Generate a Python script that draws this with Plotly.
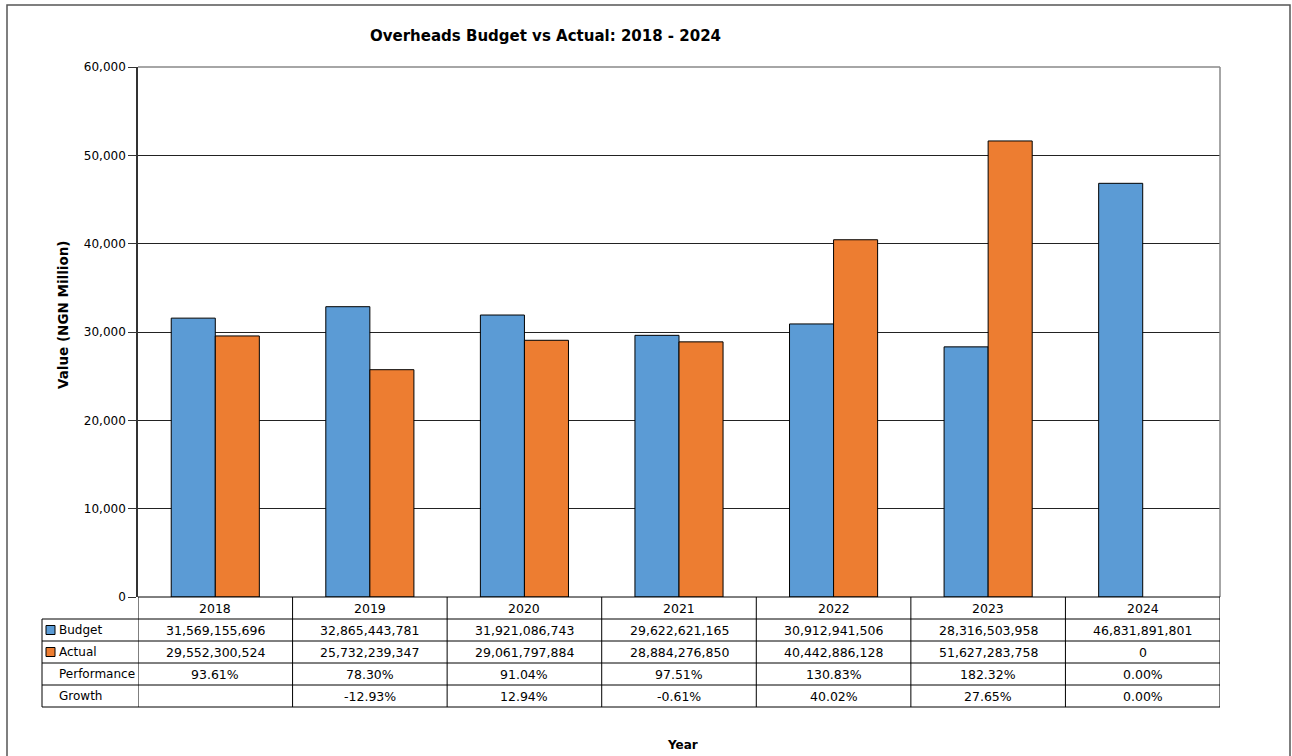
import plotly.graph_objects as go

# Overheads budget vs actual, NGN
years = ["2018", "2019", "2020", "2021", "2022", "2023", "2024"]
budget = [31569155696, 32865443781, 31921086743, 29622621165,
          30912941506, 28316503958, 46831891801]
actual = [29552300524, 25732239347, 29061797884, 28884276850,
          40442886128, 51627283758, 0]
performance = ["93.61%", "78.30%", "91.04%", "97.51%", "130.83%", "182.32%", "0.00%"]
growth = ["", "-12.93%", "12.94%", "-0.61%", "40.02%", "27.65%", "0.00%"]

BLUE = "#5B9BD5"
ORANGE = "#ED7D31"
FONT = "DejaVu Sans"

W, H = 1292, 756


def px(x):
    return x / W


def py(y):
    return 1 - y / H


PLOT_L, PLOT_R, PLOT_T, PLOT_B = 138, 1220, 67, 597
TABLE_L = 42
ROWS = [597, 619, 641, 663, 685, 707]

budget_m = [v / 1e6 for v in budget]
actual_m = [v / 1e6 for v in actual]


def outline(vals):
    # no outline on empty bars
    return [1 if v else 0 for v in vals]


fig = go.Figure()
fig.add_bar(x=years, y=budget_m, name="Budget", marker_color=BLUE,
            marker_line=dict(color="#000000", width=outline(budget_m)))
fig.add_bar(x=years, y=actual_m, name="Actual", marker_color=ORANGE,
            marker_line=dict(color="#000000", width=outline(actual_m)))

shapes = []
annotations = []

# outer chart border
shapes.append(dict(type="rect", xref="paper", yref="paper",
                   x0=px(7), x1=px(1290), y0=py(770), y1=py(5),
                   line=dict(color="#555555", width=1.5), layer="below"))

# plot frame top / right
shapes.append(dict(type="line", xref="paper", yref="paper",
                   x0=px(PLOT_L), x1=px(PLOT_R), y0=py(PLOT_T), y1=py(PLOT_T),
                   line=dict(color="#888888", width=1.5)))
shapes.append(dict(type="line", xref="paper", yref="paper",
                   x0=px(PLOT_R), x1=px(PLOT_R), y0=py(PLOT_T), y1=py(PLOT_B),
                   line=dict(color="#888888", width=1.5)))

# data table grid
for i, yy in enumerate(ROWS):
    x0 = PLOT_L if i == 0 else TABLE_L
    shapes.append(dict(type="line", xref="paper", yref="paper",
                       x0=px(x0), x1=px(PLOT_R), y0=py(yy), y1=py(yy),
                       line=dict(color="#000000", width=1)))
for k in range(len(years) + 1):
    shapes.append(dict(type="line", xref="x", yref="paper",
                       x0=k - 0.5, x1=k - 0.5, y0=py(ROWS[0]), y1=py(ROWS[-1]),
                       line=dict(color="#000000", width=1)))
shapes.append(dict(type="line", xref="paper", yref="paper",
                   x0=px(TABLE_L), x1=px(TABLE_L), y0=py(ROWS[1]), y1=py(ROWS[-1]),
                   line=dict(color="#000000", width=1)))

# legend keys inside the table
for color, r in [(BLUE, 1), (ORANGE, 2)]:
    cy = (ROWS[r] + ROWS[r + 1]) / 2
    shapes.append(dict(type="rect", xref="paper", yref="paper",
                       x0=px(46), x1=px(55), y0=py(cy + 4.5), y1=py(cy - 4.5),
                       fillcolor=color, line=dict(color="#000000", width=1)))

row_labels = ["Budget", "Actual", "Performance", "Growth"]
for r, lab in enumerate(row_labels, start=1):
    cy = (ROWS[r] + ROWS[r + 1]) / 2
    annotations.append(dict(text=lab, xref="paper", yref="paper",
                            x=px(57), y=py(cy), xanchor="left", yanchor="middle",
                            showarrow=False, font=dict(family=FONT, size=12, color="#000")))

row_values = [
    years,
    [f"{v:,}" for v in budget],
    [f"{v:,}" for v in actual],
    performance,
    growth,
]
for r, vals in enumerate(row_values):
    cy = (ROWS[r] + ROWS[r + 1]) / 2
    for i, t in enumerate(vals):
        if not t:
            continue
        annotations.append(dict(text=t, xref="x", yref="paper",
                                x=i, y=py(cy), xanchor="center", yanchor="middle",
                                showarrow=False, font=dict(family=FONT, size=12.5, color="#000")))

# titles
annotations.append(dict(text="<b>Overheads Budget vs Actual: 2018 - 2024</b>",
                        xref="paper", yref="paper", x=px(545), y=py(36),
                        xanchor="center", yanchor="middle", showarrow=False,
                        font=dict(family=FONT, size=15, color="#000")))
annotations.append(dict(text="<b>Value (NGN Million)</b>", textangle=-90,
                        xref="paper", yref="paper", x=px(63), y=py(315),
                        xanchor="center", yanchor="middle", showarrow=False,
                        font=dict(family=FONT, size=13.5, color="#000")))
annotations.append(dict(text="<b>Year</b>", xref="paper", yref="paper",
                        x=px(682), y=py(745), xanchor="center", yanchor="middle",
                        showarrow=False, font=dict(family=FONT, size=12, color="#000")))

fig.update_layout(
    width=W, height=H,
    margin=dict(l=0, r=0, t=0, b=0, pad=0),
    paper_bgcolor="#ffffff", plot_bgcolor="#ffffff",
    barmode="group", bargap=0.43, bargroupgap=0,
    showlegend=False,
    font=dict(family=FONT, size=12, color="#000"),
    shapes=shapes, annotations=annotations,
    xaxis=dict(domain=[px(PLOT_L), px(PLOT_R)], range=[-0.5, 6.5],
               showticklabels=False, ticks="", showgrid=False, zeroline=False,
               showline=False, fixedrange=True, automargin=False),
    yaxis=dict(domain=[py(PLOT_B), py(PLOT_T)], range=[0, 60000], dtick=10000,
               tickformat=",", ticks="outside", ticklen=8, tickcolor="#333333",
               showline=True, linecolor="#333333", linewidth=1.5,
               showgrid=True, gridcolor="#222222", gridwidth=1,
               zeroline=False, tickfont=dict(family=FONT, size=12, color="#000"),
               fixedrange=True, automargin=False),
)

fig.write_html("out.html")
